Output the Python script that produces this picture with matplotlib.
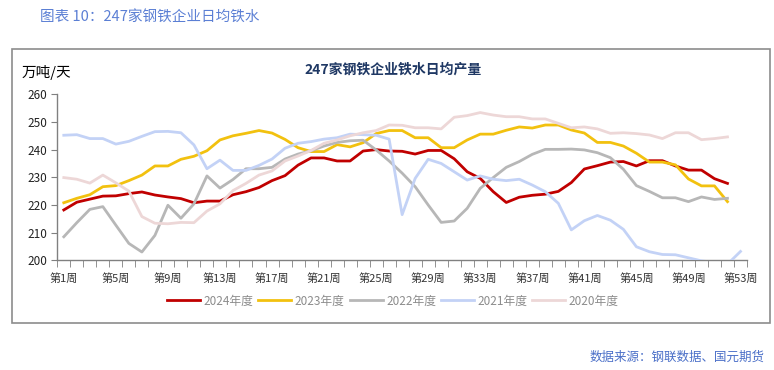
import numpy as np
import matplotlib.pyplot as plt
from matplotlib.patches import Rectangle

plt.rcParams['font.family'] = ['Noto Sans CJK SC', 'DejaVu Sans']

weeks = np.arange(1, 54)

# 周度铁水日均产量（万吨/天）
y2024 = [218.2, 221.0, 222.1, 223.2, 223.3, 224.1, 224.7, 223.6, 222.9, 222.3,
         220.8, 221.4, 221.4, 223.7, 224.8, 226.3, 228.8, 230.6, 234.4, 237.0,
         237.0, 235.9, 235.9, 239.5, 240.0, 239.5, 239.4, 238.4, 239.7, 239.7,
         236.7, 232.0, 229.6, 224.8, 220.9, 222.8, 223.5, 223.9, 224.9, 228.1,
         233.0, 234.2, 235.5, 235.7, 234.1, 236.0, 236.0, 234.1, 232.6, 232.6,
         229.5, 227.8, np.nan]
y2023 = [220.8, 222.4, 223.7, 226.6, 227.0, 228.8, 230.8, 234.1, 234.1, 236.5,
         237.6, 239.6, 243.5, 245.0, 245.9, 246.9, 246.0, 243.7, 240.7, 239.3,
         239.3, 241.8, 241.0, 242.5, 245.8, 246.9, 246.9, 244.3, 244.3, 240.7,
         240.7, 243.5, 245.6, 245.6, 247.0, 248.2, 247.8, 248.9, 248.9, 247.1,
         246.0, 242.6, 242.6, 241.3, 238.7, 235.5, 235.5, 234.5, 229.4, 226.9,
         226.9, 221.2, np.nan]
y2022 = [208.5, 213.6, 218.4, 219.4, 212.7, 206.1, 203.0, 209.0, 219.9, 215.2,
         220.4, 230.5, 226.1, 229.2, 233.1, 233.1, 233.6, 236.6, 238.4, 239.6,
         241.3, 242.6, 243.2, 243.4, 239.9, 235.9, 231.5, 226.6, 220.0, 213.7,
         214.2, 218.8, 226.0, 229.9, 233.6, 235.7, 238.3, 240.1, 240.1, 240.2,
         239.9, 238.9, 237.1, 232.9, 227.0, 224.9, 222.6, 222.6, 221.2, 222.9,
         222.0, 222.4, np.nan]
y2021 = [245.2, 245.4, 244.0, 244.0, 242.0, 243.0, 244.8, 246.5, 246.6, 246.1,
         241.7, 233.1, 236.2, 232.5, 232.5, 234.3, 236.6, 240.5, 242.3, 242.9,
         243.8, 244.3, 245.6, 245.4, 245.2, 243.8, 216.5, 229.6, 236.5, 235.0,
         232.0, 229.0, 230.5, 229.3, 228.8, 229.3, 227.2, 224.8, 220.6, 211.0,
         214.3, 216.2, 214.5, 211.2, 204.9, 203.1, 202.1, 202.0, 200.9, 199.8,
         199.2, 198.6, 203.2]
y2020 = [229.9, 229.3, 227.9, 230.8, 228.0, 225.0, 215.8, 213.4, 213.2, 213.7,
         213.6, 217.8, 220.4, 225.2, 227.8, 230.8, 232.3, 235.9, 237.7, 239.7,
         242.3, 243.5, 245.0, 246.1, 246.9, 248.9, 248.8, 247.9, 247.9, 247.5,
         251.7, 252.3, 253.4, 252.5, 251.9, 251.9, 251.1, 251.1, 249.5, 247.9,
         248.2, 247.5, 245.9, 246.1, 245.8, 245.3, 244.0, 246.1, 246.1, 243.6,
         244.0, 244.6, np.nan]

series = [("2024年度", y2024, "#C00000"),
          ("2023年度", y2023, "#F2C10F"),
          ("2022年度", y2022, "#B7B7B7"),
          ("2021年度", y2021, "#C3D2F6"),
          ("2020年度", y2020, "#EDD7D7")]

label_weeks = [1, 5, 9, 13, 17, 21, 25, 29, 33, 37, 41, 45, 49, 53]

fig = plt.figure(figsize=(7.74, 3.70), dpi=100)

# 外框
fig.patches.append(Rectangle((12 / 774, 1 - 323 / 370), 758 / 774, 274 / 370,
                             transform=fig.transFigure, fill=False,
                             edgecolor="#8C8C8C", linewidth=1.2))

fig.text(40 / 774, 1 - 17 / 370, "图表 10：247家钢铁企业日均铁水",
         color="#5B7FD4", fontsize=10.5, va="center", ha="left")
fig.text(765 / 774, 1 - 357 / 370, "数据来源：钢联数据、国元期货",
         color="#4A6FC8", fontsize=9, va="center", ha="right")
fig.text(22 / 774, 1 - 72 / 370, "万吨/天", color="black", fontsize=10.5,
         va="center", ha="left")
fig.text(393 / 774, 1 - 70 / 370, "247家钢铁企业铁水日均产量", color="#1F3864",
         fontsize=10, fontweight="bold", va="center", ha="center")

ax = fig.add_axes([57.3 / 774, 1 - 260.3 / 370, (747 - 57.3) / 774, (260.3 - 94.3) / 370])

for name, vals, col in series:
    ax.plot(weeks, vals, color=col, linewidth=2.0, label=name, zorder=3)

ax.set_xlim(0.5, 53.5)
ax.set_ylim(200, 260)
ax.set_yticks(np.arange(200, 261, 10))
ax.set_xticks(label_weeks)
ax.set_xticklabels([f"第{w}周" for w in label_weeks], fontsize=8)
ax.set_xticks(np.arange(0.5, 54, 1), minor=True)
ax.tick_params(axis="x", which="major", length=0, pad=9, colors="#333333")
ax.tick_params(axis="x", which="minor", length=5, color="#808080", direction="out")
ax.tick_params(axis="y", length=4, color="#808080", labelsize=8.5, labelcolor="#222222")

for s in ["top", "right"]:
    ax.spines[s].set_visible(False)
for s in ["left", "bottom"]:
    ax.spines[s].set_color("#808080")
    ax.spines[s].set_linewidth(1.0)

fig.legend(loc="center", bbox_to_anchor=(393 / 774, 1 - 301 / 370), ncol=5,
           frameon=False, fontsize=8.5, handlelength=2.8, columnspacing=0.4,
           handletextpad=0.3, labelcolor="#8C8C8C")

fig.savefig("out.png", dpi=100)
